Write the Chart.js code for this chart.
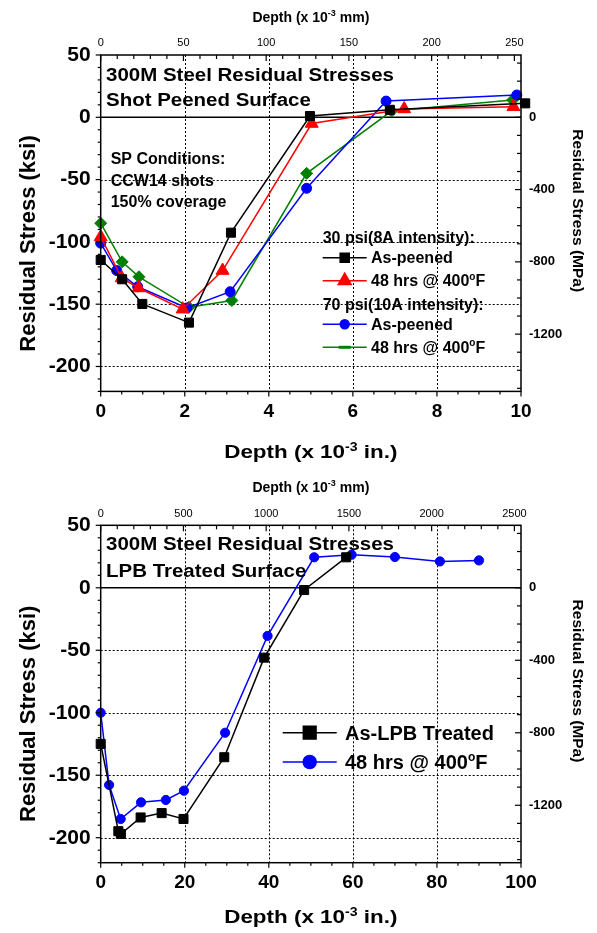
<!DOCTYPE html>
<html>
<head>
<meta charset="utf-8">
<script src="https://cdn.jsdelivr.net/npm/chart.js@4.4.0/dist/chart.umd.min.js"></script>
<style>
  html, body { margin: 0; padding: 0; background: #fff; }
  #wrap { position: relative; width: 597px; height: 933px; overflow: hidden; }
  canvas { position: absolute; left: 0; }
</style>
</head>
<body>
<div id="wrap">
  <canvas id="spChart" width="597" height="466" style="top:0;width:597px;height:466px"></canvas>
  <canvas id="lpbChart" width="597" height="467" style="top:466px;width:597px;height:467px"></canvas>
</div>
<script>
const FONT = '"Liberation Sans", Arial, Helvetica, sans-serif';
const MPA_PER_KSI = 6.895;

// stress axes, same on both panels
const stressMin = -220;
const stressMax = 50;
const stressTicks = [50, 0, -50, -100, -150, -200];
const stressGrid = [-50, -100, -150, -200];
const mpaTicks = [0, -400, -800, -1200];

// panel 1 : shot peened
const spDepthTicks = [0, 2, 4, 6, 8, 10];
const spMmTicks = [0, 50, 100, 150, 200, 250];
const spGroups = ['30 psi(8A intensity):', '70 psi(10A intensity):'];
const sp30PeenedDepth = [0, 0.51, 0.99, 2.1, 3.1, 4.98, 6.88, 10.1];
const sp30PeenedStress = [-114.5, -130, -149.8, -164.8, -92.6, 1, 6, 11.2];
const sp30HeatDepth = [0, 0.5, 0.9, 1.95, 2.9, 5.02, 7.22, 9.82];
const sp30HeatStress = [-96, -129, -137, -154, -123, -5, 6.7, 8.5];
const sp70PeenedDepth = [0, 0.38, 0.88, 2.05, 3.08, 4.9, 6.79, 9.9];
const sp70PeenedStress = [-101, -123, -136, -153, -140, -57, 13, 17.9];
const sp70HeatDepth = [0, 0.51, 0.91, 2.1, 3.12, 4.9, 6.92, 9.8];
const sp70HeatStress = [-85, -116, -128, -152.5, -147, -45, 5, 13.9];

// panel 2 : low plasticity burnished
const lpbDepthTicks = [0, 20, 40, 60, 80, 100];
const lpbMmTicks = [0, 500, 1000, 1500, 2000, 2500];
const lpbTreatedDepth = [0, 4.2, 4.8, 9.5, 14.5, 19.7, 29.4, 38.9, 48.4, 58.4];
const lpbTreatedStress = [-124.9, -194.8, -197, -183.8, -180.3, -185, -135.6, -55.9, -1.8, 24.4];
const lpbHeatDepth = [0, 2, 4.75, 9.6, 15.5, 19.8, 29.6, 39.7, 50.8, 59.7, 70, 80.7, 90];
const lpbHeatStress = [-100, -157.8, -185, -171.7, -169.8, -162.4, -116, -38.5, 24.4, 26.5, 24.6, 21.1, 21.9];

// build a line dataset from two arrays
function series(label, xs, ys, color, style, radius) {
    return {
        label: label,
        data: xs.map((x, i) => ({ x: x, y: ys[i] })),
        borderColor: color,
        backgroundColor: color,
        pointBackgroundColor: color,
        pointBorderColor: color,
        pointStyle: style,
        pointRadius: radius,
        pointBorderWidth: 1,
        borderWidth: 1.5,
        tension: 0,
        clip: false,
        xAxisID: 'x',
        yAxisID: 'y'
    };
}

function stroke(ctx, x0, y0, x1, y1) {
    ctx.beginPath();
    ctx.moveTo(x0, y0);
    ctx.lineTo(x1, y1);
    ctx.stroke();
}

// text made of pieces (for superscripts), baseline at y
function drawRich(ctx, parts, x, y, align, sx) {
    sx = sx || 1;
    let w = 0;
    parts.forEach(p => {
        ctx.font = (p.weight || 'bold') + ' ' + p.size + 'px ' + FONT;
        p.w = ctx.measureText(p.t).width;
        w += p.w;
    });
    ctx.save();
    ctx.translate(x, y);
    ctx.scale(sx, 1);
    ctx.textAlign = 'left';
    ctx.textBaseline = 'alphabetic';
    ctx.fillStyle = '#000';
    let cx = align === 'center' ? -w / 2 : 0;
    parts.forEach(p => {
        ctx.font = (p.weight || 'bold') + ' ' + p.size + 'px ' + FONT;
        ctx.fillText(p.t, cx, -(p.rise || 0));
        cx += p.w;
    });
    ctx.restore();
}

// "400°F" -> small raised o, like the original
function degreeParts(text, size) {
    const bits = text.split('°');
    if (bits.length < 2) return [{ t: text, size: size }];
    return [
        { t: bits[0], size: size },
        { t: 'o', size: Math.round(size * 0.6), rise: size * 0.42 },
        { t: bits[1], size: size }
    ];
}

function depthTitle(size, supSize, unit) {
    return [
        { t: 'Depth (x 10', size: size },
        { t: '-3', size: supSize, rise: size * 0.4 },
        { t: ' ' + unit + ')', size: size }
    ];
}

function makeFrame(p) {
    return {
        id: 'frame',
        beforeDatasetsDraw(chart) {
            const { ctx, chartArea: a, scales } = chart;
            ctx.save();
            ctx.strokeStyle = '#000';
            ctx.lineWidth = 1;
            ctx.setLineDash([2, 2]);
            p.xTicks.slice(1, -1).forEach(v => {
                const px = Math.round(scales.x.getPixelForValue(v)) + 0.5;
                stroke(ctx, px, a.top, px, a.bottom);
            });
            stressGrid.forEach(v => {
                const py = Math.round(scales.y.getPixelForValue(v)) + 0.5;
                stroke(ctx, a.left, py, a.right, py);
            });
            ctx.setLineDash([]);
            ctx.lineWidth = 1.5;
            const y0 = scales.y.getPixelForValue(0);
            stroke(ctx, a.left, y0, a.right, y0);
            ctx.restore();
        },
        afterDraw(chart) {
            const { ctx, chartArea: a, scales } = chart;
            ctx.save();
            ctx.strokeStyle = '#000';
            ctx.fillStyle = '#000';

            // frame
            ctx.lineWidth = 1.5;
            ctx.strokeRect(a.left, a.top, a.right - a.left, a.bottom - a.top);

            // tick marks
            ctx.lineWidth = 1.2;
            for (let v = 0; v <= p.xMax + 1e-9; v += p.xMinor) {
                const px = scales.x.getPixelForValue(v);
                const major = p.xTicks.some(t => Math.abs(t - v) < 1e-6);
                stroke(ctx, px, a.bottom, px, a.bottom + (major ? 5 : 3));
            }
            for (let v = 0; v <= p.mmMax + 1e-9; v += p.mmMinor) {
                const px = scales.x2.getPixelForValue(v);
                const major = p.mmTicks.some(t => Math.abs(t - v) < 1e-6);
                stroke(ctx, px, a.top, px, a.top + (major ? 6 : 4));
            }
            for (let v = stressMax; v >= stressMin; v -= 10) {
                const py = scales.y.getPixelForValue(v);
                const major = stressTicks.indexOf(v) >= 0;
                stroke(ctx, a.left - (major ? 5 : 3), py, a.left, py);
            }
            for (let v = 300; v >= stressMin * MPA_PER_KSI; v -= 100) {
                const py = scales.y2.getPixelForValue(v);
                const major = mpaTicks.indexOf(v) >= 0;
                stroke(ctx, a.right - (major ? 6 : 4), py, a.right, py);
            }

            // axis titles
            const cx = (a.left + a.right) / 2;
            drawRich(ctx, depthTitle(14, 9, 'mm'), cx, a.top - 33.3, 'center');
            drawRich(ctx, depthTitle(19, 12, 'in.'), cx, a.top + p.bottomTitleDy, 'center', 1.18);

            ctx.save();
            ctx.translate(26.7, a.top + 188.5);
            ctx.rotate(-Math.PI / 2);
            drawRich(ctx, [{ t: 'Residual Stress (ksi)', size: 22 }], 0, 22 * 0.36, 'center');
            ctx.restore();

            ctx.save();
            ctx.translate(578.3, a.top + 155.7);
            ctx.rotate(Math.PI / 2);
            drawRich(ctx, [{ t: 'Residual Stress (MPa)', size: 15.5 }], 0, 15.5 * 0.36, 'center');
            ctx.restore();

            // notes inside the plot
            p.notes.forEach(n => {
                n.lines.forEach((line, i) => {
                    drawRich(ctx, [{ t: line, size: n.size }], n.x, a.top + n.dy[i] + n.size * 0.36, 'left', n.sx);
                });
            });

            // legend
            const lg = p.legend;
            lg.rows.forEach(row => {
                const y = a.top + row.dy;
                if (row.header) {
                    drawRich(ctx, [{ t: row.header, size: lg.size }], lg.x0, y + lg.size * 0.36, 'left');
                    return;
                }
                const ds = chart.data.datasets[row.ds];
                ctx.strokeStyle = ds.borderColor;
                ctx.fillStyle = ds.borderColor;
                ctx.lineWidth = 1.5;
                stroke(ctx, lg.x0, y, lg.x1, y);
                const mx = (lg.x0 + lg.x1) / 2;
                if (row.r > 0) {
                    Chart.helpers.drawPoint(ctx, { pointStyle: ds.pointStyle, radius: row.r, borderWidth: 1, rotation: 0 }, mx, y);
                } else {
                    ctx.lineWidth = 3;
                    stroke(ctx, mx - 6, y, mx + 6, y);
                }
                drawRich(ctx, degreeParts(ds.label, lg.size), lg.textX, y + lg.size * 0.36, 'left');
            });
            ctx.restore();
        }
    };
}

function fixedTicks(values) {
    return function(scale) {
        scale.ticks = values.map(v => ({ value: v }));
    };
}

function axisFont(size, weight) {
    return { family: FONT, size: size, weight: weight };
}

function makePanel(canvasId, p) {
    const plain = v => String(v);
    return new Chart(document.getElementById(canvasId), {
        type: 'line',
        data: { datasets: p.datasets },
        options: {
            responsive: false,
            animation: false,
            events: [],
            layout: { padding: 0, autoPadding: false },
            plugins: { legend: { display: false }, tooltip: { enabled: false } },
            scales: {
                x: {
                    type: 'linear', position: 'bottom', min: 0, max: p.xMax,
                    grid: { display: false, drawTicks: false }, border: { display: false },
                    afterBuildTicks: fixedTicks(p.xTicks),
                    afterFit: s => { s.height = p.bottomH; },
                    ticks: { font: axisFont(19, 'bold'), color: '#000', padding: 9, maxRotation: 0, autoSkip: false, callback: plain }
                },
                x2: {
                    type: 'linear', position: 'top', min: 0, max: p.mmMax,
                    grid: { display: false, drawTicks: false }, border: { display: false },
                    afterBuildTicks: fixedTicks(p.mmTicks),
                    afterFit: s => { s.height = p.topH; },
                    ticks: { font: axisFont(11, 'normal'), color: '#000', padding: 5, maxRotation: 0, autoSkip: false, callback: plain }
                },
                y: {
                    type: 'linear', position: 'left', min: stressMin, max: stressMax,
                    grid: { display: false, drawTicks: false }, border: { display: false },
                    afterBuildTicks: fixedTicks(stressTicks),
                    afterFit: s => { s.width = 100.7; },
                    ticks: { font: axisFont(21, 'bold'), color: '#000', padding: 10, autoSkip: false, callback: plain }
                },
                y2: {
                    type: 'linear', position: 'right', min: stressMin * MPA_PER_KSI, max: stressMax * MPA_PER_KSI,
                    grid: { display: false, drawTicks: false }, border: { display: false },
                    afterBuildTicks: fixedTicks(mpaTicks),
                    afterFit: s => { s.width = 76; },
                    ticks: { font: axisFont(13, 'bold'), color: '#000', padding: 8, autoSkip: false, callback: plain }
                }
            }
        },
        plugins: [makeFrame(p)]
    });
}

makePanel('spChart', {
    datasets: [
        series('As-peened', sp30PeenedDepth, sp30PeenedStress, '#000000', 'rect', 6.4),
        series('48 hrs @ 400°F', sp30HeatDepth, sp30HeatStress, '#ff0000', 'triangle', 7.5),
        series('As-peened', sp70PeenedDepth, sp70PeenedStress, '#0000ff', 'circle', 5),
        series('48 hrs @ 400°F', sp70HeatDepth, sp70HeatStress, '#008000', 'rectRot', 6)
    ],
    xTicks: spDepthTicks, xMax: 10, xMinor: 0.5,
    mmTicks: spMmTicks, mmMax: 254, mmMinor: 10,
    topH: 55, bottomH: 74.6, bottomTitleDy: 403.4,
    notes: [
        { lines: ['300M Steel Residual Stresses', 'Shot Peened Surface'], x: 106, dy: [20, 45], size: 17.5, sx: 1.17 },
        { lines: ['SP Conditions:', 'CCW14 shots', '150% coverage'], x: 110.7, dy: [103.3, 125, 146], size: 16, sx: 1 }
    ],
    legend: {
        x0: 322.7, x1: 366.7, textX: 371, size: 16,
        rows: [
            { header: spGroups[0], dy: 182 },
            { ds: 0, dy: 202.7, r: 6.4 },
            { ds: 1, dy: 225.7, r: 7.5 },
            { header: spGroups[1], dy: 249 },
            { ds: 2, dy: 269.3, r: 4.5 },
            { ds: 3, dy: 292.3, r: 0 }
        ]
    }
});

makePanel('lpbChart', {
    datasets: [
        series('As-LPB Treated', lpbTreatedDepth, lpbTreatedStress, '#000000', 'rect', 6.4),
        series('48 hrs @ 400°F', lpbHeatDepth, lpbHeatStress, '#0000ff', 'circle', 4.6)
    ],
    xTicks: lpbDepthTicks, xMax: 100, xMinor: 5,
    mmTicks: lpbMmTicks, mmMax: 2540, mmMinor: 100,
    topH: 59.3, bottomH: 70.3, bottomTitleDy: 398,
    notes: [
        { lines: ['300M Steel Residual Stresses', 'LPB Treated Surface'], x: 106, dy: [18, 45.4], size: 17.5, sx: 1.17 }
    ],
    legend: {
        x0: 282.7, x1: 336.7, textX: 345, size: 20,
        rows: [
            { ds: 0, dy: 207.4, r: 9 },
            { ds: 1, dy: 236.7, r: 6.5 }
        ]
    }
});
</script>
</body>
</html>
